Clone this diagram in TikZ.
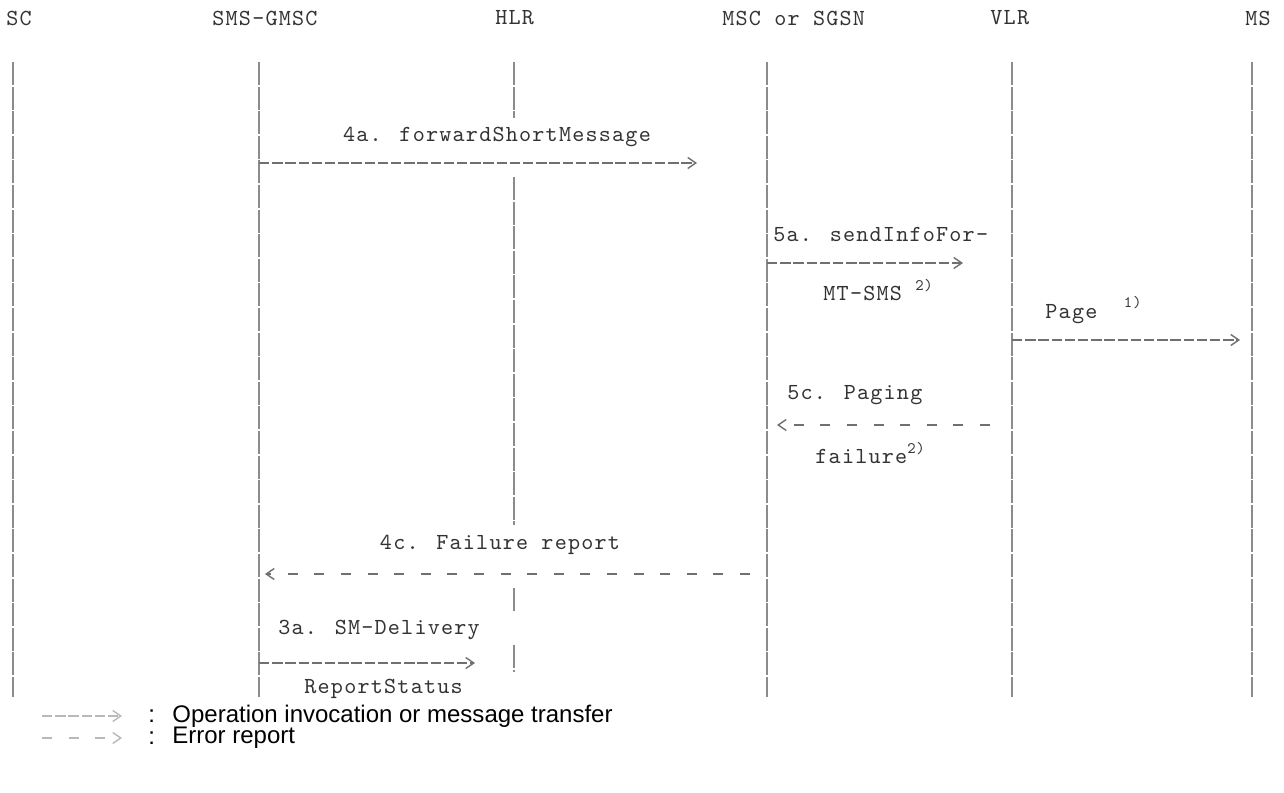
\documentclass[tikz,border=0pt]{standalone}
\usepackage{fontspec}
\setmainfont{Liberation Sans}
\newfontfamily\monofont{lmmono10-regular.otf}[LetterSpace=5.3]
\usetikzlibrary{arrows.meta}
\definecolor{ink}{HTML}{333333}
\definecolor{life}{HTML}{8C8C8C}
\definecolor{wire}{HTML}{707070}
\newcommand{\fnmark}[1]{\raisebox{.45em}{\fontsize{8}{8}\selectfont #1}}

\begin{document}
\begin{tikzpicture}[x=0.5pt,y=-0.5pt,
  txt/.style={font=\monofont\fontsize{11.5}{12}\selectfont,text=ink,inner sep=0pt},
  lifeline/.style={draw=life,line width=1.1pt,dash pattern=on 11.5pt off 0.8pt},
  msg/.style={draw=wire,line width=0.7pt,dash pattern=on 5.2pt off 1.4pt,-{Straight Barb[length=4pt,width=5.5pt]}},
  err/.style={msg,dash pattern=on 5pt off 8.3pt},
  keytext/.style={font=\fontsize{12}{14}\selectfont,inner sep=0pt,anchor=west}]
\fill[white] (0,0) rectangle (1284,792);
\useasboundingbox (0,0) rectangle (1284,792);

\node[txt,anchor=west] (hsc) at (6,18) {SC};
\node[txt,anchor=west] (hgmsc) at (212,18) {SMS-GMSC};
\node[txt,anchor=west] (hhlr) at (495,18) {HLR};
\node[txt,anchor=west] (hmsc) at (722,18) {MSC or SGSN};
\node[txt,anchor=west] (hvlr) at (990,18) {VLR};
\node[txt,anchor=west] (hms) at (1245,18) {MS};

\foreach \n/\x in {sc/13,gmsc/259,msc/767,vlr/1012,ms/1252}
  \draw[lifeline] (\x,62) coordinate (\n) -- (\x,697) coordinate (\n-end);
\coordinate (hlr) at (514,62);
\foreach \a/\b in {62/118,177/525,588/612,645/672}
  \draw[lifeline] (hlr |- 0,\a) -- (hlr |- 0,\b);

\node[txt] (m4a) at (497,137) {4a. forwardShortMessage};
\coordinate (e4a) at (697,163);
\draw[msg] (gmsc |- e4a) -- (e4a);

\node[txt,anchor=west] (m5a) at (773,235) {5a. sendInfoFor-};
\coordinate (e5a) at (963,263);
\draw[msg] (msc |- e5a) -- (e5a);
\node[txt,anchor=west] (m5a2) at (823,290) {MT-SMS \fnmark{2)}};

\node[txt,anchor=west] (page) at (1045,310) {Page\ \ \fnmark{1)}};
\coordinate (epage) at (1240,340);
\draw[msg] (vlr |- epage) -- (epage);

\node[txt,anchor=west] (m5c) at (787,395) {5c. Paging};
\coordinate (s5c) at (990,425);
\draw[err] (s5c) -- ([xshift=5pt]msc |- s5c);
\node[txt,anchor=west] (m5c2) at (815,453) {failure\fnmark{2)}};

\node[txt] (m4c) at (500,545) {4c. Failure report};
\coordinate (s4c) at (750,574);
\draw[err] (s4c) -- ([xshift=3pt]gmsc |- s4c);

\node[txt,anchor=west] (m3a) at (278,630) {3a. SM-Delivery};
\coordinate (e3a) at (475,663);
\draw[msg] (gmsc |- e3a) -- (e3a);
\node[txt,anchor=west] (m3a2) at (304,689) {ReportStatus};

\coordinate (k1) at (42,716);
\coordinate (k2) at (42,738);
\draw[msg,draw=gray!55] (k1) -- ++(80,0) coordinate (k1-end);
\draw[err,draw=gray!55] (k2) -- ++(80,0) coordinate (k2-end);
\node[keytext] (c1) at (148,716) {:};
\node[keytext] (c2) at (148,738) {:};
\node[keytext] (t1) at (172,716) {Operation invocation or message transfer};
\node[keytext] (t2) at (172,738) {Error report};
\end{tikzpicture}
\end{document}
